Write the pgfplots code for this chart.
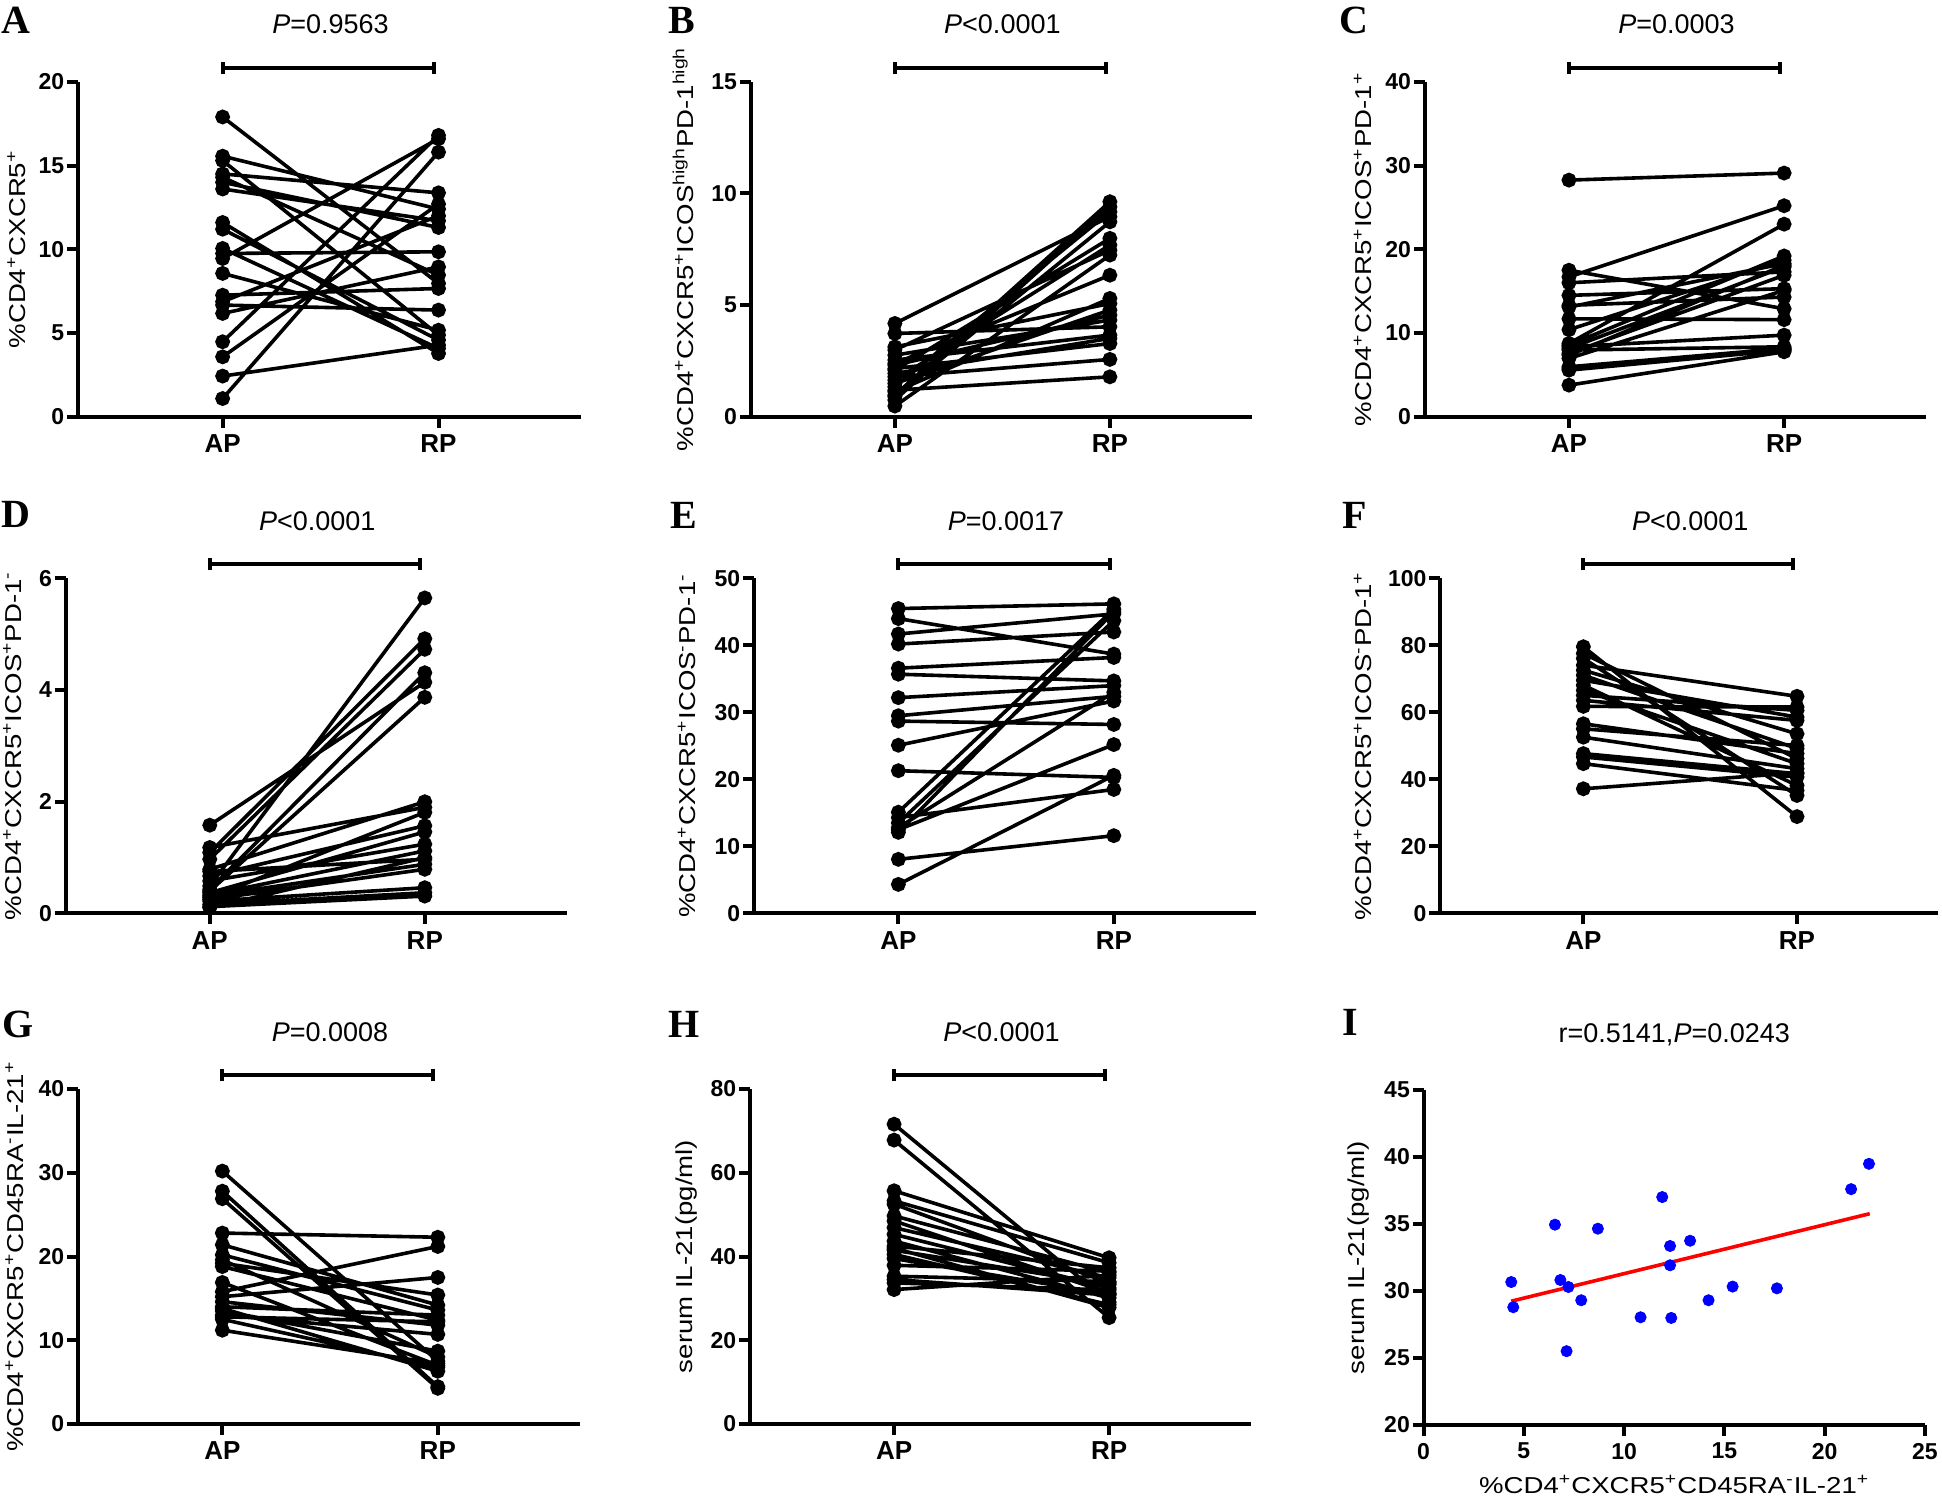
\documentclass[border=0pt]{standalone}
\usepackage{fontspec}
\setmainfont{Liberation Sans}
\newfontfamily\letterfont{Liberation Serif}
\usepackage{graphicx}
\usepackage{pgfplots}
\pgfplotsset{compat=1.18}

\newcommand{\lbl}[1]{\scalebox{1.2}[1]{\fontsize{11.5}{13}\selectfont #1}}
\newcommand{\sps}{\textsuperscript{+}}
\newcommand{\sms}{\textsuperscript{-}}
\newcommand{\ttl}[1]{\fontsize{13.5}{15}\selectfont #1}

\pgfplotsset{
  gp/.style={
    scale only axis,
    anchor=south west,
    axis x line=bottom, axis y line=left,
    axis line style={-, line width=2pt, black},
    tick style={black, line width=2pt},
    major tick length=5.5pt,
    tick align=outside,
    clip=false,
    /pgf/number format/assume math mode=true,
    yticklabel style={font=\bfseries\fontsize{11.5}{13}\selectfont, inner sep=1.2pt},
    xticklabel style={font=\bfseries\fontsize{13}{15}\selectfont},
    height=167.5pt,
  },
  cat/.style={gp, xmin=0.33, xmax=2.66, xtick={1,2}, xticklabels={AP,RP}, unbounded coords=jump},
  yl/.style={every axis y label/.style={at={([xshift=#1]rel axis cs:0,0.5)}, rotate=90, anchor=center}},
  pair/.style={black, line width=1.8pt, mark=*, mark size=2.8pt, mark options={solid, fill=black}},
}

% bracket + title: #1 = ymax, #2 = title text
\newcommand{\bracket}[2]{%
  \draw[line width=2pt] ([yshift=7pt]axis cs:1,#1) -- ([yshift=7pt]axis cs:1.98,#1);
  \draw[line width=2pt] ([yshift=4pt]axis cs:1,#1) -- ([yshift=10pt]axis cs:1,#1);
  \draw[line width=2pt] ([yshift=4pt]axis cs:1.98,#1) -- ([yshift=10pt]axis cs:1.98,#1);
  \node[anchor=base] at ([yshift=24pt]axis cs:1.5,#1) {\ttl{#2}};
}

\begin{document}
\begin{tikzpicture}
\path[use as bounding box] (0,0) rectangle (971pt,753pt);

% panel letters
\begin{scope}[every node/.style={font=\letterfont\bfseries\fontsize{20}{22}\selectfont, anchor=center}]
\node at (8pt,743pt) {A};
\node at (341pt,743pt) {B};
\node at (677pt,743pt) {C};
\node at (8pt,496pt) {D};
\node at (342pt,495.5pt) {E};
\node at (677.5pt,495.5pt) {F};
\node at (9pt,241pt) {G};
\node at (342pt,241pt) {H};
\node at (675pt,242pt) {I};
\end{scope}

% ---------------- A ----------------
\begin{axis}[cat, at={(39pt,544.6pt)}, width=251.5pt, ymin=0, ymax=20, ytick={0,5,10,15,20},
  yl=-30.8pt, ylabel={\lbl{\%CD4\sps CXCR5\sps}}]
\addplot[pair] coordinates {
(1,17.9) (2,7.96) (1,nan)
(1,15.56) (2,12.4) (1,nan)
(1,15.3) (2,4.88) (1,nan)
(1,14.5) (2,13.37) (1,nan)
(1,14.3) (2,8.46) (1,nan)
(1,14.0) (2,11.3) (1,nan)
(1,13.6) (2,11.7) (1,nan)
(1,11.6) (2,3.78) (1,nan)
(1,11.2) (2,4.58) (1,nan)
(1,10.05) (2,4.08) (1,nan)
(1,9.75) (2,9.85) (1,nan)
(1,9.45) (2,16.6) (1,nan)
(1,8.56) (2,5.17) (1,nan)
(1,7.26) (2,7.66) (1,nan)
(1,6.87) (2,12.0) (1,nan)
(1,6.67) (2,6.37) (1,nan)
(1,6.17) (2,8.95) (1,nan)
(1,4.48) (2,16.8) (1,nan)
(1,3.58) (2,12.7) (1,nan)
(1,2.43) (2,4.28) (1,nan)
(1,1.09) (2,15.8)
};
\bracket{20}{\textit{P}=0.9563}
\end{axis}

% ---------------- B ----------------
\begin{axis}[cat, at={(375.4pt,544.6pt)}, width=250.5pt, ymin=0, ymax=15, ytick={0,5,10,15},
  yl=-33.9pt, ylabel={\lbl{\%CD4\sps CXCR5\sps ICOS\textsuperscript{high}PD-1\textsuperscript{high}}}]
\addplot[pair] coordinates {
(1,4.18) (2,8.96) (1,nan)
(1,3.73) (2,4.03) (1,nan)
(1,3.13) (2,5.07) (1,nan)
(1,2.99) (2,7.46) (1,nan)
(1,2.76) (2,4.33) (1,nan)
(1,2.54) (2,3.66) (1,nan)
(1,2.39) (2,6.34) (1,nan)
(1,2.31) (2,4.55) (1,nan)
(1,2.16) (2,3.28) (1,nan)
(1,2.09) (2,7.99) (1,nan)
(1,1.94) (2,3.51) (1,nan)
(1,1.79) (2,2.57) (1,nan)
(1,1.64) (2,7.69) (1,nan)
(1,1.49) (2,4.78) (1,nan)
(1,1.34) (2,9.18) (1,nan)
(1,1.19) (2,1.79) (1,nan)
(1,1.12) (2,5.30) (1,nan)
(1,0.97) (2,9.63) (1,nan)
(1,0.90) (2,8.73) (1,nan)
(1,0.75) (2,9.40) (1,nan)
(1,0.48) (2,7.24)
};
\bracket{15}{\textit{P}<0.0001}
\end{axis}

% ---------------- C ----------------
\begin{axis}[cat, at={(712.4pt,544.6pt)}, width=250.65pt, ymin=0, ymax=40, ytick={0,10,20,30,40},
  yl=-30.9pt, ylabel={\lbl{\%CD4\sps CXCR5\sps ICOS\sps PD-1\sps}}]
\addplot[pair] coordinates {
(1,28.26) (2,29.1) (1,nan)
(1,17.5) (2,12.9) (1,nan)
(1,16.7) (2,25.2) (1,nan)
(1,16.0) (2,17.3) (1,nan)
(1,14.5) (2,15.3) (1,nan)
(1,13.3) (2,14.3) (1,nan)
(1,13.1) (2,18.3) (1,nan)
(1,11.7) (2,11.6) (1,nan)
(1,10.4) (2,18.7) (1,nan)
(1,8.76) (2,23.0) (1,nan)
(1,8.56) (2,19.2) (1,nan)
(1,8.36) (2,9.75) (1,nan)
(1,8.16) (2,17.9) (1,nan)
(1,7.96) (2,8.36) (1,nan)
(1,7.56) (2,16.9) (1,nan)
(1,7.36) (2,18.1) (1,nan)
(1,6.97) (2,15.1) (1,nan)
(1,5.97) (2,8.16) (1,nan)
(1,5.77) (2,8.04) (1,nan)
(1,5.57) (2,7.96) (1,nan)
(1,3.78) (2,7.76)
};
\bracket{40}{\textit{P}=0.0003}
\end{axis}

% ---------------- D ----------------
\begin{axis}[cat, at={(32.85pt,296.3pt)}, width=250.5pt, ymin=0, ymax=6, ytick={0,2,4,6},
  yl=-26.7pt, ylabel={\lbl{\%CD4\sps CXCR5\sps ICOS\sps PD-1\sms}}]
\addplot[pair] coordinates {
(1,1.58) (2,4.14) (1,nan)
(1,1.18) (2,1.90) (1,nan)
(1,1.09) (2,4.92) (1,nan)
(1,0.97) (2,4.73) (1,nan)
(1,0.79) (2,2.00) (1,nan)
(1,0.75) (2,0.97) (1,nan)
(1,0.67) (2,1.57) (1,nan)
(1,0.58) (2,1.24) (1,nan)
(1,0.49) (2,5.65) (1,nan)
(1,0.43) (2,4.31) (1,nan)
(1,0.40) (2,3.87) (1,nan)
(1,0.37) (2,1.46) (1,nan)
(1,0.33) (2,1.12) (1,nan)
(1,0.31) (2,0.88) (1,nan)
(1,0.28) (2,1.81) (1,nan)
(1,0.25) (2,0.79) (1,nan)
(1,0.22) (2,0.46) (1,nan)
(1,0.16) (2,0.37) (1,nan)
(1,0.12) (2,0.31) (1,nan)
(1,0.10) (2,1.00)
};
\bracket{6}{\textit{P}<0.0001}
\end{axis}

% ---------------- E ----------------
\begin{axis}[cat, at={(377pt,296.3pt)}, width=251pt, ymin=0, ymax=50, ytick={0,10,20,30,40,50},
  yl=-33.5pt, ylabel={\lbl{\%CD4\sps CXCR5\sps ICOS\sms PD-1\sms}}]
\addplot[pair] coordinates {
(1,45.5) (2,46.2) (1,nan)
(1,44.0) (2,38.7) (1,nan)
(1,41.7) (2,44.7) (1,nan)
(1,40.2) (2,42.0) (1,nan)
(1,36.6) (2,38.2) (1,nan)
(1,35.7) (2,34.7) (1,nan)
(1,32.2) (2,34.0) (1,nan)
(1,29.5) (2,32.4) (1,nan)
(1,28.7) (2,28.2) (1,nan)
(1,25.1) (2,31.7) (1,nan)
(1,21.3) (2,20.3) (1,nan)
(1,15.1) (2,45.4) (1,nan)
(1,14.3) (2,18.5) (1,nan)
(1,13.5) (2,43.7) (1,nan)
(1,12.8) (2,33.0) (1,nan)
(1,12.5) (2,25.2) (1,nan)
(1,12.1) (2,45.0) (1,nan)
(1,8.07) (2,11.6) (1,nan)
(1,4.33) (2,20.6)
};
\bracket{50}{\textit{P}=0.0017}
\end{axis}

% ---------------- F ----------------
\begin{axis}[cat, at={(720.1pt,296.3pt)}, width=248.9pt, ymin=0, ymax=100, ytick={0,20,40,60,80,100},
  yl=-38.6pt, ylabel={\lbl{\%CD4\sps CXCR5\sps ICOS\sms PD-1\sps}}]
\addplot[pair] coordinates {
(1,79.6) (2,28.9) (1,nan)
(1,77.6) (2,46.2) (1,nan)
(1,76.1) (2,35.2) (1,nan)
(1,74.1) (2,64.8) (1,nan)
(1,72.6) (2,53.6) (1,nan)
(1,71.1) (2,49.2) (1,nan)
(1,69.6) (2,58.6) (1,nan)
(1,68.1) (2,38.2) (1,nan)
(1,66.6) (2,44.7) (1,nan)
(1,65.1) (2,60.6) (1,nan)
(1,63.6) (2,57.6) (1,nan)
(1,61.8) (2,61.6) (1,nan)
(1,56.6) (2,47.7) (1,nan)
(1,55.1) (2,50.1) (1,nan)
(1,52.6) (2,43.2) (1,nan)
(1,47.7) (2,41.7) (1,nan)
(1,46.7) (2,40.7) (1,nan)
(1,44.7) (2,36.7) (1,nan)
(1,37.2) (2,42.0)
};
\bracket{100}{\textit{P}<0.0001}
\end{axis}

% ---------------- G ----------------
\begin{axis}[cat, at={(39pt,41pt)}, width=251pt, ymin=0, ymax=40, ytick={0,10,20,30,40},
  yl=-31.8pt, ylabel={\lbl{\%CD4\sps CXCR5\sps CD45RA\sms IL-21\sps}}]
\addplot[pair] coordinates {
(1,30.2) (2,7.5) (1,nan)
(1,27.8) (2,4.46) (1,nan)
(1,26.9) (2,4.26) (1,nan)
(1,22.8) (2,22.3) (1,nan)
(1,21.4) (2,14.2) (1,nan)
(1,20.2) (2,13.6) (1,nan)
(1,19.6) (2,8.0) (1,nan)
(1,19.2) (2,15.4) (1,nan)
(1,18.8) (2,12.4) (1,nan)
(1,16.9) (2,7.0) (1,nan)
(1,15.8) (2,21.2) (1,nan)
(1,15.2) (2,17.5) (1,nan)
(1,14.6) (2,11.8) (1,nan)
(1,14.0) (2,13.0) (1,nan)
(1,13.8) (2,6.3) (1,nan)
(1,13.5) (2,8.7) (1,nan)
(1,13.0) (2,10.7) (1,nan)
(1,12.8) (2,12.2) (1,nan)
(1,12.5) (2,6.8) (1,nan)
(1,11.2) (2,7.2)
};
\bracket{40}{\textit{P}=0.0008}
\end{axis}

% ---------------- H ----------------
\begin{axis}[cat, at={(375pt,41pt)}, width=250.5pt, ymin=0, ymax=80, ytick={0,20,40,60,80},
  yl=-31.5pt, ylabel={\lbl{serum IL-21(pg/ml)}}]
\addplot[pair] coordinates {
(1,71.6) (2,29.1) (1,nan)
(1,67.8) (2,25.4) (1,nan)
(1,55.7) (2,39.7) (1,nan)
(1,53.3) (2,38.5) (1,nan)
(1,52.5) (2,33.7) (1,nan)
(1,49.7) (2,36.1) (1,nan)
(1,48.5) (2,31.3) (1,nan)
(1,46.9) (2,34.9) (1,nan)
(1,45.3) (2,32.5) (1,nan)
(1,43.7) (2,30.1) (1,nan)
(1,42.5) (2,37.3) (1,nan)
(1,42.0) (2,27.8) (1,nan)
(1,41.5) (2,33.3) (1,nan)
(1,40.5) (2,28.5) (1,nan)
(1,39.5) (2,31.0) (1,nan)
(1,37.9) (2,36.5) (1,nan)
(1,35.3) (2,34.0) (1,nan)
(1,34.5) (2,30.8) (1,nan)
(1,33.7) (2,32.0) (1,nan)
(1,32.1) (2,35.5)
};
\bracket{80}{\textit{P}<0.0001}
\end{axis}

% ---------------- I ----------------
\begin{axis}[gp, at={(711.8pt,40.5pt)}, width=250.65pt,
  xmin=0, xmax=25, ymin=20, ymax=45, xtick={0,5,10,15,20,25}, ytick={20,25,30,35,40,45},
  xticklabel style={font=\bfseries\fontsize{11.5}{13}\selectfont},
  yl=-32.3pt, ylabel={\lbl{serum IL-21(pg/ml)}},
  every axis x label/.style={at={([yshift=-34pt]rel axis cs:0.5,0)}, anchor=base},
  xlabel={\lbl{\%CD4\sps CXCR5\sps CD45RA\sms IL-21\sps}}]
\addplot[red, line width=1.8pt] coordinates {(4.37,29.24) (22.25,35.77)};
\addplot[only marks, mark=*, mark size=2.8pt, blue, mark options={fill=blue, draw=blue}] coordinates {
(4.37,30.67) (4.47,28.79) (6.55,34.95) (6.82,30.82) (7.22,30.30) (7.13,25.51)
(7.86,29.31) (8.69,34.65) (10.82,28.04) (11.90,37.01) (12.29,33.36) (12.29,31.92)
(12.35,27.99) (13.29,33.75) (14.21,29.31) (15.41,30.33) (17.62,30.20) (21.32,37.60)
(22.21,39.49)
};
\node[anchor=base] at ([yshift=24pt]axis cs:12.5,45) {\ttl{r=0.5141,\textit{P}=0.0243}};
\end{axis}

\end{tikzpicture}
\end{document}
